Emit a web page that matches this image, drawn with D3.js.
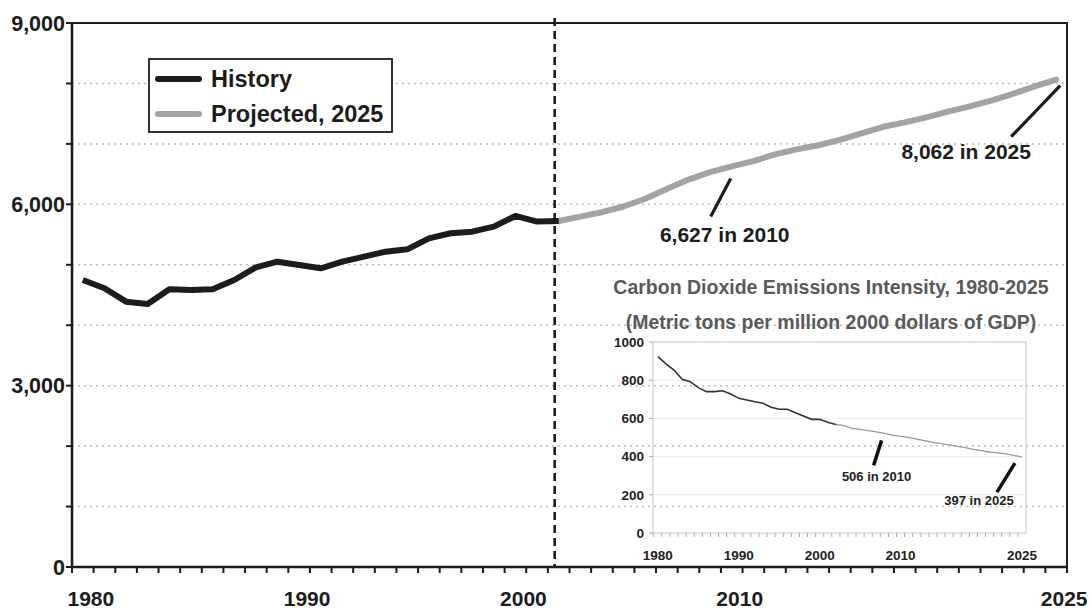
<!DOCTYPE html>
<html><head><meta charset="utf-8">
<script src="https://cdn.jsdelivr.net/npm/d3@7"></script>
<style>
body{margin:0;background:#fff;}
svg{display:block;font-family:"Liberation Sans",Arial,Helvetica,sans-serif;font-weight:bold;}
</style>
</head><body>
<svg id="chart" width="1092" height="612"></svg>
<script>
// ---- Main chart data (million metric tons CO2) ----
const historyYears = [1980,1981,1982,1983,1984,1985,1986,1987,1988,1989,1990,1991,1992,1993,1994,1995,1996,1997,1998,1999,2000,2001,2002];
const historyValues = [4748,4611,4390,4351,4594,4583,4594,4748,4958,5051,4997,4942,5051,5134,5217,5256,5438,5521,5548,5631,5808,5714,5725];
const projectedYears = [2002,2003,2004,2005,2006,2007,2008,2009,2010,2011,2012,2013,2014,2015,2016,2017,2018,2019,2020,2021,2022,2023,2024,2025];
const projectedValues = [5725,5797,5870,5964,6092,6254,6409,6532,6627,6715,6827,6910,6977,7066,7172,7283,7355,7439,7533,7622,7717,7828,7950,8062];
const xTickLabels = [1980,1990,2000,2010,2025];
const yTickLabels = [0,3000,6000,9000];
const yGridValues = [1000,2000,3000,4000,5000,6000,7000,8000];
const legendLabels = ["History","Projected, 2025"];
const mainNotes = [{year:2010,value:6627,text:"6,627 in 2010"},{year:2025,value:8062,text:"8,062 in 2025"}];

// ---- Inset data (metric tons per million 2000 dollars of GDP) ----
const insetTitle = ["Carbon Dioxide Emissions Intensity, 1980-2025","(Metric tons per million 2000 dollars of GDP)"];
const insetHistoryValues = [923,885,853,805,792,761,740,740,745,728,705,696,687,679,658,648,648,630,612,595,595,580,568];
const insetProjectedValues = [568,562,548,543,536,530,522,513,506,501,492,483,475,468,461,454,447,438,431,424,419,414,407,397];
const insetXTickLabels = [1980,1990,2000,2010,2025];
const insetYTickLabels = [0,200,400,600,800,1000];
const insetNotes = [{year:2010,value:506,text:"506 in 2010"},{year:2025,value:397,text:"397 in 2025"}];

const svg = d3.select("#chart");
const ink = "#1c1c1c";

// Scales
const x = d3.scaleLinear().domain([1979.5,2025.5]).range([72,1067]);
const y = d3.scaleLinear().domain([0,9000]).range([567,23]);

// Gridlines
svg.append("g").selectAll("line").data(yGridValues).join("line")
  .attr("x1",x(1979.5)).attr("x2",x(2025.5))
  .attr("y1",d=>y(d)).attr("y2",d=>y(d))
  .attr("stroke","#bdbdbd").attr("stroke-width",1.5).attr("stroke-dasharray","2,4");

// Inset (drawn under main frame)
const xi = d3.scaleLinear().domain([1979.4,2025.5]).range([653,1026]);
const yi = d3.scaleLinear().domain([0,1000]).range([533,342]);
const inset = svg.append("g");
inset.selectAll("line.ig").data(insetYTickLabels.filter(d=>d>0 && d<1000)).join("line")
  .attr("class","ig")
  .attr("x1",xi.range()[0]).attr("x2",xi.range()[1])
  .attr("y1",d=>yi(d)).attr("y2",d=>yi(d))
  .attr("stroke","#ececec").attr("stroke-width",1);
inset.append("rect")
  .attr("x",xi.range()[0]).attr("y",yi(1000))
  .attr("width",xi.range()[1]-xi.range()[0]).attr("height",yi(0)-yi(1000))
  .attr("fill","none").attr("stroke","#cfcfcf").attr("stroke-width",1.2);
const insetYearTicks = d3.range(1980,2026);
inset.append("g").selectAll("line").data(insetYearTicks).join("line")
  .attr("x1",d=>xi(d-0.5)).attr("x2",d=>xi(d-0.5))
  .attr("y1",yi(0)).attr("y2",yi(0)+4)
  .attr("stroke","#aaa").attr("stroke-width",1);
inset.append("g").selectAll("line").data(insetYTickLabels).join("line")
  .attr("x1",xi.range()[0]-4).attr("x2",xi.range()[0])
  .attr("y1",d=>yi(d)).attr("y2",d=>yi(d))
  .attr("stroke","#aaa").attr("stroke-width",1);
inset.append("g").selectAll("text").data(insetYTickLabels).join("text")
  .attr("x",xi.range()[0]-9).attr("y",d=>yi(d)).attr("dy","0.36em")
  .attr("text-anchor","end").attr("font-size",13.5).attr("fill","#222").text(d=>d);
inset.append("g").selectAll("text").data(insetXTickLabels).join("text")
  .attr("x",d=>xi(d)).attr("y",yi(0)+22).attr("dy","0.36em")
  .attr("text-anchor","middle").attr("font-size",13.5).attr("fill","#222").text(d=>d);
inset.append("g").selectAll("text").data(insetTitle).join("text")
  .attr("x",831).attr("y",(d,i)=>287+i*35).attr("dy","0.36em")
  .attr("text-anchor","middle").attr("font-size",19.5).attr("fill","#5a5a5a").text(d=>d);
const lineI = d3.line().x(d=>xi(d[0])).y(d=>yi(d[1]));
inset.append("path").datum(historyYears.map((yr,i)=>[yr,insetHistoryValues[i]]))
  .attr("d",lineI).attr("fill","none").attr("stroke","#333").attr("stroke-width",1.6);
inset.append("path").datum(projectedYears.map((yr,i)=>[yr,insetProjectedValues[i]]))
  .attr("d",lineI).attr("fill","none").attr("stroke","#9a9a9a").attr("stroke-width",1.3);
const insetNoteGeom = [{l:[-19,4,-27,29],t:[-24,40]},{l:[-7,6,-25,35],t:[-43,43]}];
insetNotes.forEach((n,i)=>{
  const px = xi(n.year), py = yi(n.value), g = insetNoteGeom[i];
  inset.append("line").attr("x1",px+g.l[0]).attr("y1",py+g.l[1]).attr("x2",px+g.l[2]).attr("y2",py+g.l[3])
    .attr("stroke","#111").attr("stroke-width",3.5);
  inset.append("text").attr("x",px+g.t[0]).attr("y",py+g.t[1]).attr("dy","0.36em")
    .attr("text-anchor","middle").attr("font-size",13).attr("fill","#222").text(n.text);
});

// Dashed divider
svg.append("line")
  .attr("x1",x(2002)-4).attr("x2",x(2002)-4).attr("y1",18).attr("y2",y(0))
  .attr("stroke",ink).attr("stroke-width",2.6).attr("stroke-dasharray","8,5");

// Lines
const line = d3.line().x(d=>x(d[0])).y(d=>y(d[1]));
svg.append("path").datum(projectedYears.map((yr,i)=>[yr,projectedValues[i]]))
  .attr("d",line).attr("fill","none").attr("stroke","#a3a3a3").attr("stroke-width",6)
  .attr("stroke-linejoin","round").attr("stroke-linecap","round");
svg.append("path").datum(historyYears.map((yr,i)=>[yr,historyValues[i]]))
  .attr("d",line).attr("fill","none").attr("stroke",ink).attr("stroke-width",6)
  .attr("stroke-linejoin","round").attr("stroke-linecap","butt");

// Frame
svg.append("rect").attr("x",x(1979.5)).attr("y",y(9000))
  .attr("width",x(2025.5)-x(1979.5)).attr("height",y(0)-y(9000))
  .attr("fill","none").attr("stroke",ink).attr("stroke-width",2);
svg.append("line").attr("x1",x(1979.5)).attr("x2",x(1979.5)).attr("y1",y(9000)).attr("y2",y(0))
  .attr("stroke",ink).attr("stroke-width",2.6);
svg.append("line").attr("x1",x(1979.5)).attr("x2",x(2025.5)).attr("y1",y(0)).attr("y2",y(0))
  .attr("stroke",ink).attr("stroke-width",2.6);

// Y axis ticks + labels
svg.append("g").selectAll("line").data([0].concat(yGridValues).concat([9000])).join("line")
  .attr("x1",x(1979.5)-6).attr("x2",x(1979.5)).attr("y1",d=>y(d)).attr("y2",d=>y(d))
  .attr("stroke",ink).attr("stroke-width",2);
svg.append("g").selectAll("text").data(yTickLabels).join("text")
  .attr("x",x(1979.5)-7).attr("y",d=>y(d)).attr("dy","0.36em")
  .attr("text-anchor","end").attr("font-size",21.5).attr("fill",ink).text(d=>d3.format(",")(d));

// X axis ticks + labels
const yearTicks = d3.range(1980,2027);
svg.append("g").selectAll("line").data(yearTicks).join("line")
  .attr("x1",d=>x(d-0.5)).attr("x2",d=>x(d-0.5)).attr("y1",y(0)).attr("y2",y(0)+6)
  .attr("stroke",ink).attr("stroke-width",2);
svg.append("g").selectAll("text").data(xTickLabels).join("text")
  .attr("x",d=>x(d)+8).attr("y",598).attr("dy","0.36em")
  .attr("text-anchor","middle").attr("font-size",21).attr("fill",ink).text(d=>d);

// Main annotations
const mainNoteGeom = [{l:[-1,12,-21,50],t:[-7,68]},{l:[4,6,-45,57],t:[-90,72]}];
mainNotes.forEach((n,i)=>{
  const px = x(n.year), py = y(n.value), g = mainNoteGeom[i];
  svg.append("line").attr("x1",px+g.l[0]).attr("y1",py+g.l[1]).attr("x2",px+g.l[2]).attr("y2",py+g.l[3])
    .attr("stroke",ink).attr("stroke-width",3.2);
  svg.append("text").attr("x",px+g.t[0]).attr("y",py+g.t[1]).attr("dy","0.36em")
    .attr("text-anchor","middle").attr("font-size",21).attr("fill",ink).text(n.text);
});

// Legend
const lg = svg.append("g");
lg.append("rect").attr("x",149).attr("y",59).attr("width",243).attr("height",73)
  .attr("fill","#fff").attr("stroke",ink).attr("stroke-width",1.8);
const legendColors = [ink,"#a3a3a3"];
legendLabels.forEach((t,i)=>{
  const ly = 79 + i*35;
  lg.append("line").attr("x1",158).attr("x2",199).attr("y1",ly).attr("y2",ly)
    .attr("stroke",legendColors[i]).attr("stroke-width",6).attr("stroke-linecap","round");
  lg.append("text").attr("x",211).attr("y",ly).attr("dy","0.36em")
    .attr("font-size",23.5).attr("fill",ink).text(t);
});
</script>
</body></html>
